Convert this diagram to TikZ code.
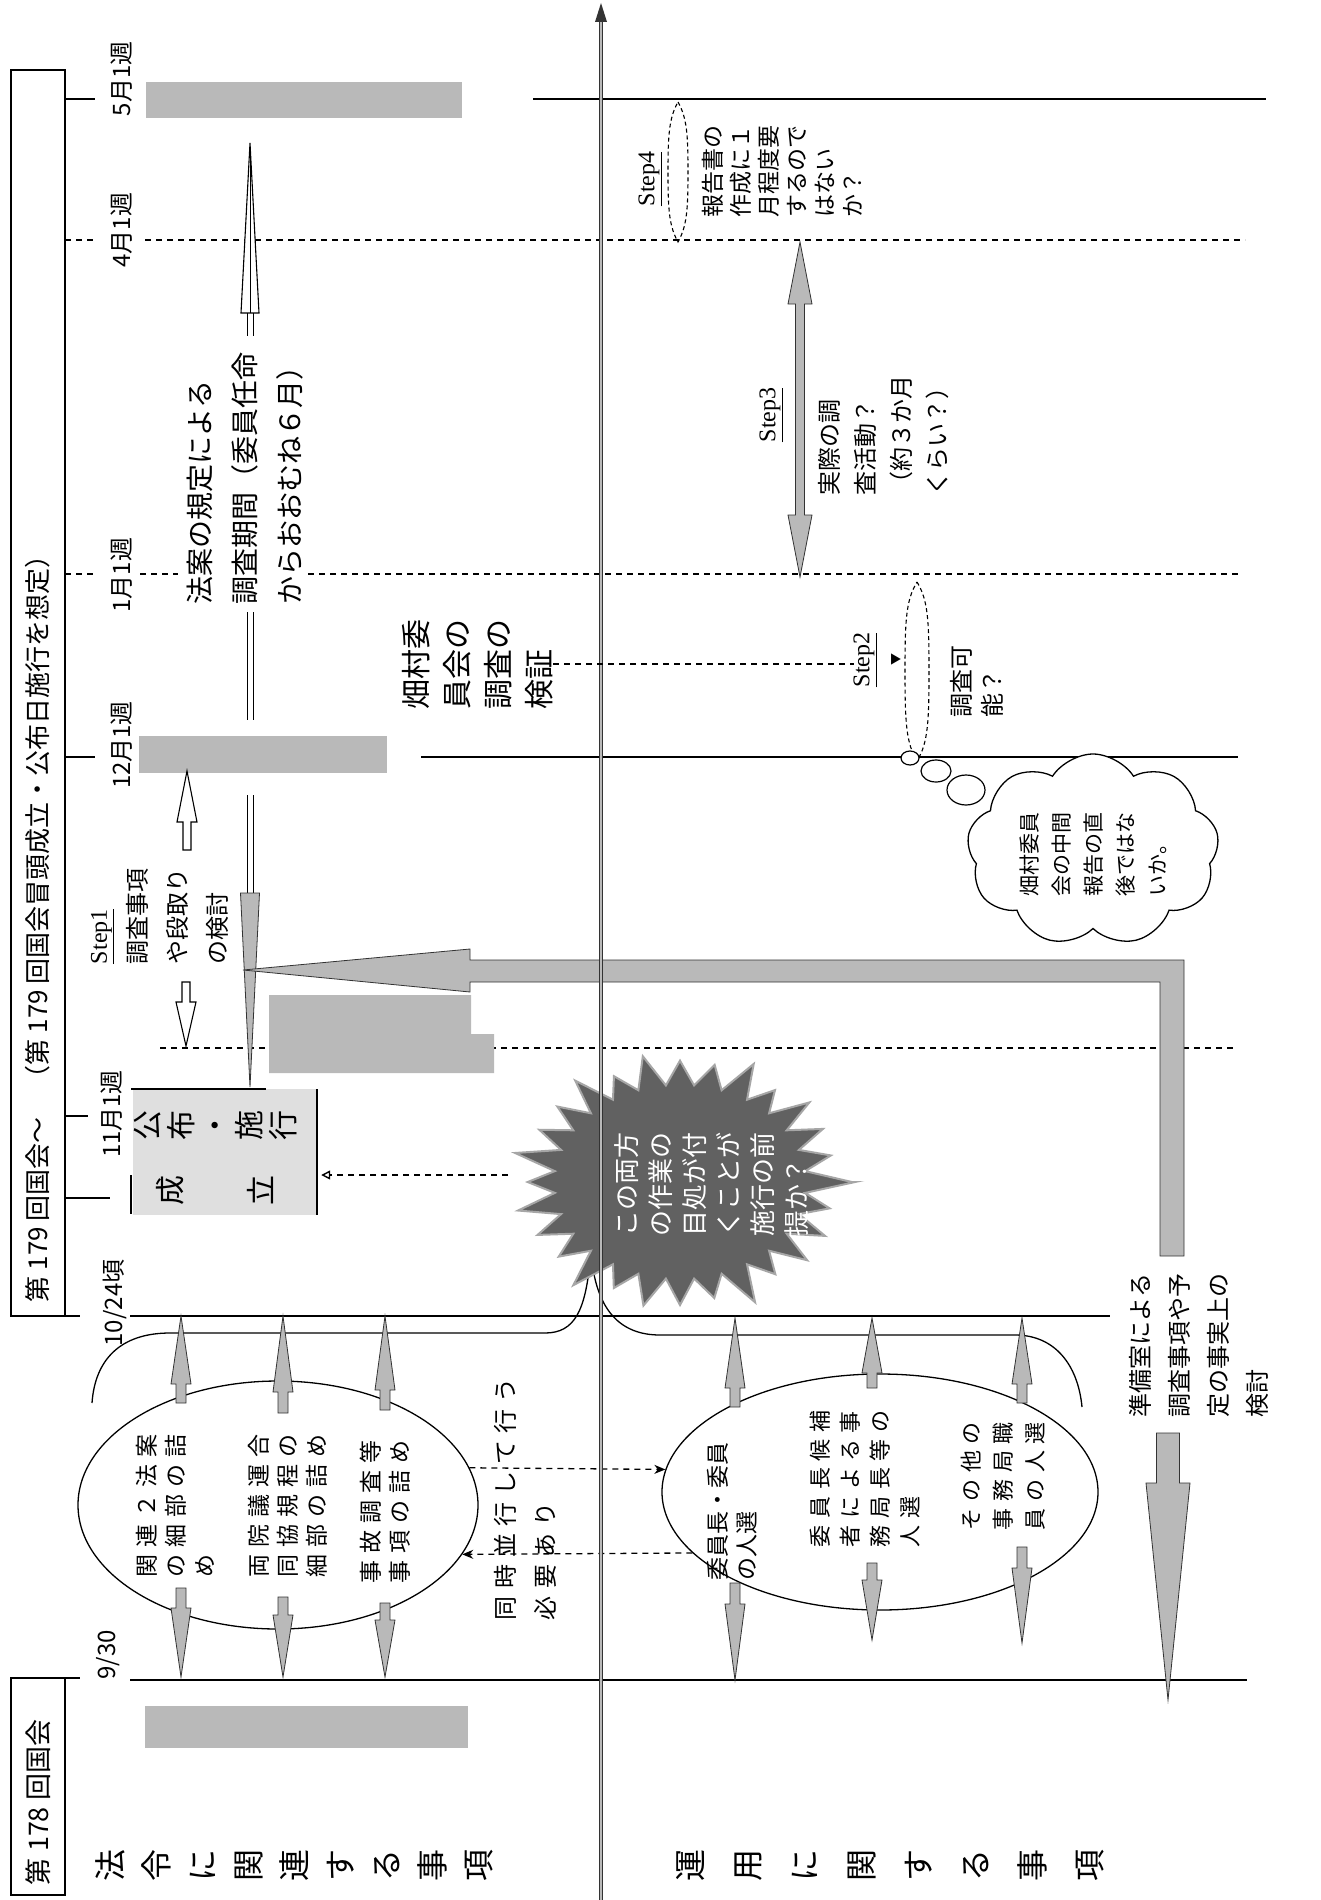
\documentclass[tikz,border=0pt]{standalone}
\usepackage{fontspec}
\setmainfont{Noto Sans CJK JP}
\newfontfamily\serfont{Liberation Serif}
\newfontfamily\jpls{Noto Sans CJK JP}[LetterSpace=30]
\usetikzlibrary{shapes.symbols,shapes.geometric,arrows.meta}

\tikzset{
  ln/.style={line width=1.7pt},
  dln/.style={line width=1.7pt, dash pattern=on 6pt off 5pt},
  rt/.style={rotate=90, inner sep=0pt, outer sep=0pt, align=left, anchor=west},
  rc/.style={rotate=90, inner sep=0pt, outer sep=0pt, align=center, anchor=center},
  gbar/.style={fill=gray!55},
  garrow/.style={fill=gray!55, draw=black!80, line width=0.8pt},
  harrow/.style={fill=white, draw=black, line width=1.1pt},
  lens/.style={line width=1.1pt, dash pattern=on 4pt off 3pt},
  datef/.style={font=\fontsize{24}{28}\selectfont},
}

% vertical fat arrow: [style]{x}{tail y}{tip y}{head base y}{head half width}{shaft half width}
\newcommand{\fatarrow}[7][garrow]{%
  \path[#1] ({#2-#7},#3) -- ({#2-#7},#5) -- ({#2-#6},#5) -- (#2,#4) -- ({#2+#6},#5) -- ({#2+#7},#5) -- ({#2+#7},#3) -- cycle;}
% vertical double arrow: [style]{x}{tip1 y}{tip2 y}{head length}{head half width}{shaft half width}
\newcommand{\dblarrow}[7][garrow]{%
  \path[#1] (#2,#3) -- ({#2+#6},{#3+#5}) -- ({#2+#7},{#3+#5}) -- ({#2+#7},{#4-#5}) -- ({#2+#6},{#4-#5}) -- (#2,#4) -- ({#2-#6},{#4-#5}) -- ({#2-#7},{#4-#5}) -- ({#2-#7},{#3+#5}) -- ({#2-#6},{#3+#5}) -- cycle;}

\begin{document}
\begin{tikzpicture}[x=1pt,y=-1pt]
\fill[white] (0,0) rectangle (1320,1900);
\useasboundingbox (0,0) rectangle (1320,1900);

% ---------- header boxes ----------
\draw[ln] (11,70) rectangle (65,1316);
\draw[ln] (11,1678) rectangle (65,1895);

% ---------- ticks ----------
\draw[ln] (65,99) -- (95,99);
\draw[dln] (65,240) -- (95,240);
\draw[dln] (65,574) -- (95,574);
\draw[ln] (65,757) -- (95,757);
\draw[ln] (65,1116) -- (88,1116);
\draw[ln] (65,1198) -- (110,1198);
\draw[ln] (65,1316) -- (80,1316);
\draw[ln] (65,1678) -- (80,1678);

% ---------- date lines ----------
\draw[ln] (533,99) -- (1266,99);
\draw[dln] (145,240) -- (1245,240);
\draw[dln] (140,574) -- (178,574);
\draw[dln] (308,574) -- (1240,574);
\draw[ln] (421,757) -- (1238,757);
\draw[dln] (160,1048) -- (1237,1048);
\draw[ln] (130,1316) -- (1110,1316);
\draw[ln] (130,1680) -- (1247,1680);

% ---------- grey (masked) bars ----------
\fill[gbar] (146,82) rectangle (462,118);
\fill[gbar] (139,736) rectangle (387,773);
\fill[gbar] (269,995) -- (471,995) -- (471,1034) -- (494,1034) -- (494,1073) -- (269,1073) -- cycle;
\fill[gbar] (145,1706) rectangle (468,1748);

% ---------- 成立 box ----------
\node[fill=gray!25, minimum width=184pt, minimum height=126pt, inner sep=0pt] (seiritsu) at (225,1152) {};
\draw[ln] (131,1089) -- (266,1089);
\draw[line width=2.2pt] (317,1089) -- (317,1215);
\draw[ln] (131,1175) -- (131,1214);
\node[rc, font=\fontsize{30}{34}\selectfont] (kofu) at (216,1125) {公\\布\\・\\施\\行};
\node[rc, font=\fontsize{30}{34}\selectfont] (sei) at (170,1190) {成};
\node[rc, font=\fontsize{30}{34}\selectfont] (ritsu) at (260,1190) {立};

% ---------- long arrow (法案の規定による調査期間) ----------
\path[harrow] (250,143) -- (259,313) -- (241,313) -- cycle;
\draw[line width=0.6pt] (250,152) -- (250,313);
\draw[line width=1pt] (247,313) -- (247,336) (253,313) -- (253,336);
\draw[line width=1pt] (247,612) -- (247,720) (253,612) -- (253,720);
\draw[line width=1pt] (247,795) -- (247,893) (253,795) -- (253,893);
\path[garrow] (240.5,893) -- (259.5,893) -- (250,1087) -- cycle;

% ---------- Step1 hollow arrows ----------
\fatarrow[harrow]{187}{850}{771}{822}{10}{4}
\fatarrow[harrow]{186}{982}{1046}{1002}{10}{4}

% ---------- Step3 / Step4 / Step2 ----------
\dblarrow[garrow]{800}{242}{577}{62}{12}{4.5}
\draw[lens] (678,102) .. controls (687,118) and (688,135) .. (688,172) .. controls (688,209) and (687,226) .. (678,242) .. controls (669,226) and (668,209) .. (668,172) .. controls (668,135) and (669,118) .. (678,102) -- cycle;
\draw[lens] (917,582) .. controls (928,600) and (929,620) .. (929,671) .. controls (929,722) and (928,743) .. (917,761) .. controls (906,743) and (905,722) .. (905,671) .. controls (905,620) and (906,600) .. (917,582) -- cycle;

% ---------- ellipses and braces ----------
\node[ellipse, draw, line width=1.3pt, minimum width=400pt, minimum height=248pt, inner sep=0pt] (ellA) at (278,1505) {};
\node[ellipse, draw, line width=1.3pt, minimum width=436pt, minimum height=236pt, inner sep=0pt] (ellB) at (880,1492) {};
\draw[line width=1.3pt] (590,1262) .. controls (585,1310) and (575,1333) .. (545,1333) -- (170,1333) .. controls (120,1333) and (95,1360) .. (92,1403);
\draw[line width=1.3pt] (592,1262) .. controls (598,1310) and (620,1335) .. (660,1335) -- (1015,1335) .. controls (1055,1335) and (1078,1365) .. (1082,1407);
\draw[dln, line width=1.3pt, -{Stealth[length=11pt,width=9pt]}] (ellA.11) -- (ellB.174);
\draw[dln, line width=1.3pt, -{Stealth[length=11pt,width=9pt]}] (ellB.198) -- (ellA.-15);

% small grey arrows, upper group
\fatarrow{181}{1403}{1316}{1384}{10}{5}
\fatarrow{283}{1413}{1316}{1392}{10}{5}
\fatarrow{385}{1410}{1316}{1390}{10}{5}
\fatarrow{181}{1588}{1677}{1608}{10}{5}
\fatarrow{283}{1597}{1677}{1615}{10}{5}
\fatarrow{385}{1603}{1677}{1620}{10}{5}
% small grey arrows, lower group
\fatarrow{735}{1407}{1318}{1388}{10}{5}
\fatarrow{872}{1388}{1318}{1373}{10}{5}
\fatarrow{1022}{1403}{1318}{1384}{10}{5}
\fatarrow{735}{1583}{1680}{1604}{10}{5}
\fatarrow{872}{1563}{1640}{1580}{10}{5}
\fatarrow{1022}{1547}{1643}{1568}{10}{5}

% ---------- dashed arrow starburst -> 成立 ----------
\coordinate (starL) at (508,1175);
\draw[dln, line width=1.4pt, -{Triangle[open,length=9pt,width=9pt]}] (starL) -- ([yshift=-23pt,xshift=4pt]seiritsu.east);

% ---------- starburst ----------
\fill[black!62, draw=gray!70, line width=2pt] (855,1182) \foreach \i in {0,...,27}{ -- ({680+0.72*175*cos(360/28*\i+180/28)},{1182+0.72*135*sin(360/28*\i+180/28)}) -- ({680+175*(1-0.13*abs(sin(71*(\i+1))))*cos(360/28*(\i+1))},{1182+135*(1-0.13*abs(sin(71*(\i+1))))*sin(360/28*(\i+1))}) } -- cycle;

% ---------- big L arrow and down arrow ----------
\path[garrow] (243,970) -- (470,949) -- (470,960) -- (1184,960) -- (1184,1256) -- (1160,1256) -- (1160,982) -- (470,982) -- (470,992) -- cycle;
\fatarrow{1168}{1433}{1700}{1483}{22}{11.5}

% ---------- main axis ----------
\coordinate (axB) at (601,1900);
\coordinate (axT) at (601,20);
\draw[draw=black!80, line width=1.1pt, double=gray!55, double distance=2.6pt] (axB) -- (axT);
\fill[black!80] (601,3) -- (607,22) -- (595,22) -- cycle;

% ---------- cloud ----------
\node[cloud, cloud puffs=9, cloud puff arc=115, cloud ignores aspect, draw, line width=1.3pt, fill=white, minimum width=252pt, minimum height=192pt, inner sep=0pt] (cloud) at (1093,850) {};
\draw[line width=1.2pt, fill=white] (910,758) ellipse [x radius=9pt, y radius=7pt];
\draw[line width=1.2pt, fill=white] (936,771) ellipse [x radius=15pt, y radius=11pt];
\draw[line width=1.2pt, fill=white] (966,790) ellipse [x radius=19pt, y radius=15pt];

% ---------- texts ----------
\node[rt, font=\fontsize{26}{30}\selectfont] (hdrA) at (38,1302) {第 179 回国会〜\quad（第 179 回国会冒頭成立・公布日施行を想定）};
\node[rt, font=\fontsize{27}{30}\selectfont] (hdrB) at (38,1885) {第 178 回国会};

\node[rc, datef] (d5) at (122,79) {5月1週};
\node[rc, datef] (d4) at (122,230) {4月1週};
\node[rc, datef] (d1) at (122,575) {1月1週};
\node[rc, datef] (d12) at (122,745) {12月1週};
\node[rc, datef] (d11) at (112,1114) {11月1週};
\node[rc, datef] (d1024) at (115,1303) {10/24頃};
\node[rc, datef] (d930) at (108,1655) {9/30};

\node[rt, font=\fontsize{28}{45}\selectfont] (hoan) at (245,604) {法案の規定による\\調査期間（委員任命\\からおおむね６月）};
\node[rt, font=\fontsize{30}{41}\selectfont] (hata) at (478,709) {畑村委\\員会の\\調査の\\検証};

\node[rt, font=\fontsize{24}{40}\selectfont] (s1) at (160,964) {{\serfont\underline{Step1}}\\調査事項\\や段取り\\の検討};

\node[rc, font=\serfont\fontsize{24}{28}\selectfont] (s4lab) at (650,179) {\underline{Step4}};
\node[rt, font=\fontsize{23}{28}\selectfont] (s4txt) at (782,217) {報告書の\\作成に１\\月程度要\\するので\\はない\\か？};

\node[rc, font=\serfont\fontsize{24}{28}\selectfont] (s3lab) at (771,415) {\underline{Step3}};
\node[rt, font=\fontsize{24}{36}\selectfont] (s3txt) at (884,495) {実際の調\\査活動？\\（約３か月\\くらい？）};

\node[rc, font=\serfont\fontsize{24}{28}\selectfont] (s2lab) at (865,660) {\underline{Step2}};
\node[rc, font=\fontsize{12}{14}\selectfont] (s2tri) at (896,659) {▼};
\node[rt, font=\fontsize{24}{31}\selectfont] (s2txt) at (977,717) {調査可\\能？};
\draw[dln, line width=1.4pt] (hata.south) -- (hata.south -| s2lab.north);

\node[rt, font=\fontsize{21}{32}\selectfont] (cloudtxt) at (1093,896) {畑村委員\\会の中間\\報告の直\\後ではな\\いか。};

\node[rt, text=white, font=\fontsize{26}{34}\selectfont] (startxt) at (712,1236) {この両方\\の作業の\\目処が付\\くことが\\施行の前\\提か？};

\node[rt, font={\jpls\fontsize{23}{29}\selectfont}] (g1) at (175,1577) {関連２法案\\の細部の詰\\め};
\node[rt, font={\jpls\fontsize{23}{29}\selectfont}] (g2) at (288,1577) {両院議運合\\同協規程の\\細部の詰め};
\node[rt, font={\jpls\fontsize{23}{29}\selectfont}] (g3) at (385,1583) {事故調査等\\事項の詰め};
\node[rt, font={\jpls\fontsize{24}{40}\selectfont}] (doji) at (525,1620) {同時並行して行う\\必要あり};

\node[rt, font=\fontsize{23}{29}\selectfont] (h1) at (732,1580) {委員長・委員\\の人選};
\node[rt, font={\jpls\fontsize{22}{30}\selectfont}] (h2) at (865,1547) {委員長候補\\者による事\\務局長等の\\人選};
\node[rt, font={\jpls\fontsize{22}{32}\selectfont}] (h3) at (1003,1530) {その他の\\事務局職\\員の人選};

\node[rt, font=\fontsize{24}{39}\selectfont] (junbi) at (1199,1417) {準備室による\\調査事項や予\\定の事実上の\\検討};

\node[rc, font=\fontsize{32}{46}\selectfont] (hourei) at (294,1865) {法\\令\\に\\関\\連\\す\\る\\事\\項};
\node[rc, font=\fontsize{32}{57}\selectfont] (unyou) at (890,1865) {運\\用\\に\\関\\す\\る\\事\\項};
\end{tikzpicture}
\end{document}
